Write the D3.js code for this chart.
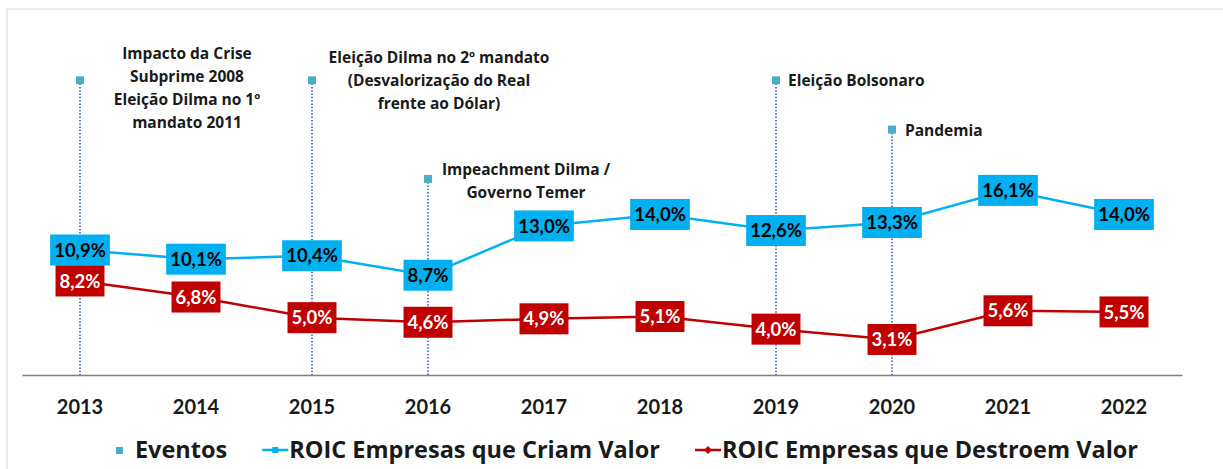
<!DOCTYPE html>
<html>
<head>
<meta charset="utf-8">
<script src="https://cdn.jsdelivr.net/npm/d3@7"></script>
<style>
  body { margin: 0; background: #fff; }
  svg { display: block; font-family: Lato, 'Open Sans', sans-serif; font-weight: bold; }
</style>
</head>
<body>
<div id="chart"></div>
<script>
// dados
const years = ['2013', '2014', '2015', '2016', '2017', '2018', '2019', '2020', '2021', '2022']
const roicCriam = [10.9, 10.1, 10.4, 8.7, 13.0, 14.0, 12.6, 13.3, 16.1, 14.0]
const roicDestroem = [8.2, 6.8, 5.0, 4.6, 4.9, 5.1, 4.0, 3.1, 5.6, 5.5]
const eventYears = ['2013', '2015', '2016', '2019', '2020']
const eventValues = [25.7, 25.7, 17.1, 25.7, 21.4]
const eventLabels = [
  ['Impacto da Crise', 'Subprime 2008', 'Eleição Dilma no 1º', 'mandato 2011'],
  ['Eleição Dilma no 2º mandato', '(Desvalorização do Real', 'frente ao Dólar)'],
  ['Impeachment Dilma /', 'Governo Temer'],
  ['Eleição Bolsonaro'],
  ['Pandemia']
]
const legendNames = ['Eventos', 'ROIC Empresas que Criam Valor', 'ROIC Empresas que Destroem Valor']

// layout das anotações (posição manual dos rótulos de eventos)
const eventLabelPos = [
  { anchor: 'middle', dx: 107, dy: -21 },
  { anchor: 'middle', dx: 127, dy: -17 },
  { anchor: 'middle', dx: 98, dy: -4 },
  { anchor: 'start', dx: 12, dy: 6 },
  { anchor: 'start', dx: 13, dy: 6 }
]

let w = 1223,
  h = 469,
  margin = [31, 41, 94, 22]

let blue = '#00B0F0',
  red = '#C00000',
  teal = '#4BACC6',
  dotColor = '#2F5597'

let x = d3.scaleBand().domain(years).range([margin[3], w - margin[1]])
let y = d3.scaleLinear().domain([0, 30]).range([h - margin[2], margin[0]])
let cx = d => x(d) + x.bandwidth() / 2

let svg = d3.select('#chart').append('svg').attr('width', w).attr('height', h)

// moldura
svg.append('path')
  .attr('d', `M7,${h} V9 H${w}`)
  .attr('fill', 'none')
  .attr('stroke', '#d9d9d9')
  .attr('stroke-width', 1.2)

// eixo x
let xAxis = svg.append('g')
  .attr('transform', `translate(0, ${y(0)})`)
  .call(d3.axisBottom(x).tickSize(0).tickPadding(25))
xAxis.select('.domain').attr('stroke', '#7f7f7f').attr('stroke-width', 1.5)
xAxis.selectAll('text')
  .attr('font-family', 'Lato, sans-serif')
  .attr('font-size', 20)
  .attr('font-weight', 'bold')
  .attr('fill', '#1a1a1a')

// eventos: linhas pontilhadas + marcadores
let ev = svg.selectAll('.evento')
  .data(eventYears)
  .enter()
  .append('g')
  .attr('class', 'evento')

ev.append('line')
  .attr('x1', d => cx(d))
  .attr('x2', d => cx(d))
  .attr('y1', (d, i) => y(eventValues[i]))
  .attr('y2', y(0))
  .attr('stroke', dotColor)
  .attr('stroke-width', 1.5)
  .attr('stroke-dasharray', '1.5,1.8')

ev.append('rect')
  .attr('x', d => cx(d) - 4)
  .attr('y', (d, i) => y(eventValues[i]) - 4)
  .attr('width', 8)
  .attr('height', 8)
  .attr('fill', teal)

ev.append('text')
  .attr('text-anchor', (d, i) => eventLabelPos[i].anchor)
  .attr('font-family', "'Open Sans', sans-serif")
  .attr('font-size', 15.5)
  .attr('fill', '#1a1a1a')
  .selectAll('tspan')
  .data((d, i) => eventLabels[i].map(t => ({ t, x: cx(d) + eventLabelPos[i].dx, y: y(eventValues[i]) + eventLabelPos[i].dy })))
  .enter()
  .append('tspan')
  .attr('x', d => d.x)
  .attr('y', (d, j) => d.y + j * 23)
  .text(d => d.t)

// séries
let series = [
  { values: roicCriam, color: blue, text: '#000' },
  { values: roicDestroem, color: red, text: '#fff' }
]
let line = d3.line().x((d, i) => cx(years[i])).y(d => y(d))
let fmt = v => v.toFixed(1).replace('.', ',') + '%'

series.forEach(s => {
  svg.append('path')
    .datum(s.values)
    .attr('d', line)
    .attr('fill', 'none')
    .attr('stroke', s.color)
    .attr('stroke-width', 2.5)

  let lab = svg.append('g')
    .selectAll('g')
    .data(s.values)
    .enter()
    .append('g')
    .attr('transform', (d, i) => `translate(${cx(years[i])}, ${y(d)})`)

  let rects = lab.append('rect').attr('fill', s.color)
  let texts = lab.append('text')
    .text(fmt)
    .attr('text-anchor', 'middle')
    .attr('dy', '0.36em')
    .attr('font-size', 18.5)
    .attr('fill', s.text)

  texts.each(function (d, i) {
    let tw = this.getComputedTextLength()
    d3.select(rects.nodes()[i])
      .attr('x', -tw / 2 - 4)
      .attr('y', -15.5)
      .attr('width', tw + 8)
      .attr('height', 31)
  })
})

// legenda
let lg = svg.append('g')
  .attr('font-family', "'Open Sans', sans-serif")
  .attr('font-size', 23.5)
  .attr('fill', '#1a1a1a')
let lx = 0,
  ly = 458
legendNames.forEach((name, i) => {
  let g = lg.append('g').attr('transform', `translate(${lx}, 0)`)
  let sw = i === 0 ? 19 : 27
  if (i === 0) {
    g.append('rect').attr('x', 0).attr('y', ly - 11).attr('width', 7).attr('height', 7).attr('fill', teal)
  } else {
    let c = i === 1 ? blue : red
    g.append('line').attr('x1', 0).attr('x2', 26).attr('y1', ly - 8).attr('y2', ly - 8)
      .attr('stroke', c).attr('stroke-width', 2.5)
    if (i === 1) {
      g.append('rect').attr('x', 10).attr('y', ly - 11).attr('width', 6).attr('height', 6).attr('fill', c)
    } else {
      g.append('path').attr('d', `M13,${ly - 12} l4,4 l-4,4 l-4,-4 z`).attr('fill', c)
    }
  }
  let t = g.append('text').attr('x', sw).attr('y', ly).text(name)
  lx += sw + t.node().getComputedTextLength() + 35
})
let legendW = lx - 35
lg.attr('transform', `translate(${627 - legendW / 2}, 0)`)
</script>
</body>
</html>
